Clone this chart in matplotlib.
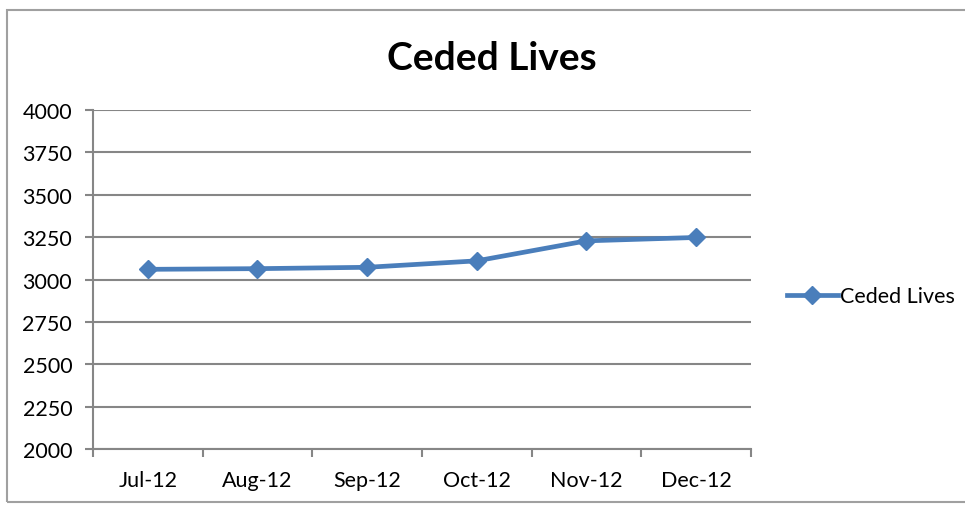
import numpy as np
import matplotlib
matplotlib.use('Agg')
import matplotlib.pyplot as plt
from matplotlib.patches import Rectangle

months = ['Jul-12', 'Aug-12', 'Sep-12', 'Oct-12', 'Nov-12', 'Dec-12']
ceded_lives = [3060, 3064, 3072, 3110, 3228, 3248]
y_ticks = [2000, 2250, 2500, 2750, 3000, 3250, 3500, 3750, 4000]

plt.rcParams['font.family'] = ['Lato', 'DejaVu Sans']

fig = plt.figure(figsize=(9.65, 5.06), dpi=100)
ax = fig.add_axes([0.0964, 0.1107, 0.6816, 0.6699])

# outer chart frame
fig.patches.append(Rectangle((7/965, 3/506), 1.2, 492/506, transform=fig.transFigure,
                             fill=False, edgecolor='#a0a0a0', linewidth=1.5))

x = np.arange(len(months))
ax.plot(x, ceded_lives, color='#4a7ebb', linewidth=3.4, marker='D', markersize=9,
        label='Ceded Lives', zorder=3)

ax.set_xlim(-0.5, len(months) - 0.5)
ax.set_ylim(2000, 4000)
ax.set_yticks(y_ticks)
ax.set_yticklabels([str(v) for v in y_ticks], fontsize=15.5)
ax.set_xticks(x)
ax.set_xticklabels(months, fontsize=15.5)
ax.set_xticks(np.arange(len(months) + 1) - 0.5, minor=True)
ax.tick_params(axis='x', which='major', length=0, pad=15)
ax.tick_params(axis='x', which='minor', length=6, width=1.5, color='#868686')
ax.tick_params(axis='y', length=6, width=1.5, color='#868686', pad=9)

ax.grid(axis='y', color='#868686', linewidth=1.5)
ax.set_axisbelow(True)
for side in ['top', 'right']:
    ax.spines[side].set_visible(False)
for side in ['left', 'bottom']:
    ax.spines[side].set_color('#868686')
    ax.spines[side].set_linewidth(1.5)

fig.text(0.51, 0.885, 'Ceded Lives', fontsize=28, fontweight='bold', ha='center', va='center')

ax.legend(loc='center left', bbox_to_anchor=(1.025, 0.45), frameon=False, fontsize=15.5,
          handlelength=2.4, handletextpad=0.1)

fig.savefig('out.png', dpi=100, facecolor='white')
